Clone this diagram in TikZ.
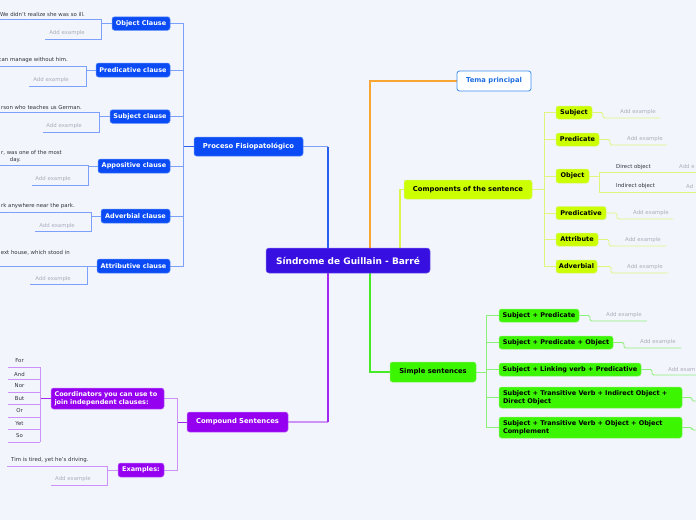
\documentclass[tikz,border=0pt]{standalone}
\usepackage{fontspec}
\setmainfont{DejaVu Sans}
\pgfdeclarelayer{bglayer}
\pgfsetlayers{bglayer,main}
\definecolor{cBg}{RGB}{243,245,253}
\definecolor{cBlue}{RGB}{10,75,245}
\definecolor{cBlueB}{RGB}{90,140,250}
\definecolor{cCent}{RGB}{55,15,225}
\definecolor{cCentB}{RGB}{120,100,240}
\definecolor{cYel}{RGB}{204,255,0}
\definecolor{cYelB}{RGB}{215,245,110}
\definecolor{cGrn}{RGB}{60,245,0}
\definecolor{cGrnB}{RGB}{130,240,100}
\definecolor{cPur}{RGB}{150,0,240}
\definecolor{cPurB}{RGB}{190,110,250}
\definecolor{cTema}{RGB}{60,140,240}
\definecolor{cTemaT}{RGB}{30,110,225}
\definecolor{cBlueMain}{RGB}{40,95,240}
\definecolor{cBlueSub}{RGB}{125,160,250}
\definecolor{cOrange}{RGB}{248,165,50}
\definecolor{cYelMain}{RGB}{222,245,80}
\definecolor{cYelSub}{RGB}{225,245,125}
\definecolor{cGrnMain}{RGB}{70,235,40}
\definecolor{cGrnSub}{RGB}{140,240,120}
\definecolor{cPurMain}{RGB}{160,40,240}
\definecolor{cPurSub}{RGB}{205,145,250}
\definecolor{cTxt}{RGB}{50,50,62}
\definecolor{cAdd}{RGB}{170,172,185}
\begin{document}
\begin{tikzpicture}[x=1pt,y=-1pt,
  box/.style={rounded corners=2.5pt, inner sep=0pt, line width=0.5pt,
    font=\fontsize{6.5}{8}\selectfont\bfseries, align=center},
  bluebox/.style={box, fill=cBlue, draw=cBlueB, text=white},
  yelbox/.style={box, fill=cYel, draw=cYelB, text=black},
  grnbox/.style={box, fill=cGrn, draw=cGrnB, text=black},
  purbox/.style={box, fill=cPur, draw=cPurB, text=white},
  lvltwo/.style={font=\fontsize{6.8}{8}\selectfont\bfseries},
  extxt/.style={font=\fontsize{5.4}{6.5}\selectfont, inner sep=0pt, text=cTxt},
  addtxt/.style={font=\fontsize{5.4}{6.5}\selectfont, inner sep=0pt, text=cAdd},
  mainline/.style={line width=1.2pt},
  subB/.style={line width=0.8pt, draw=cBlueSub},
  subY/.style={line width=0.8pt, draw=cYelSub},
  subG/.style={line width=0.8pt, draw=cGrnSub},
  subP/.style={line width=0.8pt, draw=cPurSub},
  stepln/.style={rounded corners=1.5pt}
]
\clip (0,0) rectangle (696,520);

% ---------- nodes ----------
\node[box, fill=cCent, draw=cCentB, text=white, rounded corners=3pt,
  font=\fontsize{9}{10}\selectfont\bfseries,
  minimum width=164pt, minimum height=25pt] (cent) at (348,260.5) {Síndrome de Guillain - Barré};

\node[bluebox, lvltwo, minimum width=109pt, minimum height=19pt] (proc) at (248.5,146.5) {Proceso Fisiopatológico};
\node[box, lvltwo, fill=white, draw=cTema, line width=0.8pt, text=cTemaT,
  minimum width=74pt, minimum height=20pt] (tema) at (494,81) {Tema principal};
\node[yelbox, lvltwo, minimum width=128pt, minimum height=19pt] (comp) at (468,189.5) {Components of the sentence};
\node[grnbox, lvltwo, minimum width=86pt, minimum height=20pt] (simp) at (433,372) {Simple sentences};
\node[purbox, lvltwo, minimum width=101pt, minimum height=20pt] (cmpd) at (237.5,422) {Compound Sentences};

% blue children
\node[bluebox, minimum width=58pt, minimum height=13.5pt] (objc) at (141,23.5) {Object Clause};
\node[bluebox, minimum width=74pt, minimum height=14pt] (predc) at (133,70) {Predicative clause};
\node[bluebox, minimum width=60pt, minimum height=13.5pt] (subjc) at (140,116.5) {Subject clause};
\node[bluebox, minimum width=72pt, minimum height=14pt] (appc) at (134,166) {Appositive clause};
\node[bluebox, minimum width=69pt, minimum height=14pt] (advc) at (135.5,216) {Adverbial clause};
\node[bluebox, minimum width=73pt, minimum height=14pt] (attc) at (133.5,266) {Attributive clause};

% purple children
\node[purbox, align=left, text width=106pt, minimum width=113pt, minimum height=21pt] (coord) at (107.5,398.5) {Coordinators you can use to\\join independent clauses:};
\node[purbox, minimum width=46pt, minimum height=14pt] (exm) at (141,470) {Examples:};

% yellow children
\node[yelbox, minimum width=36pt, minimum height=13pt] (subj) at (574,112.5) {Subject};
\node[yelbox, minimum width=43pt, minimum height=13pt] (pred) at (577.5,139.5) {Predicate};
\node[yelbox, minimum width=33pt, minimum height=14pt] (obj) at (572.5,176) {Object};
\node[yelbox, minimum width=50pt, minimum height=13pt] (prdv) at (581,213) {Predicative};
\node[yelbox, minimum width=42pt, minimum height=13pt] (attr) at (577,239.5) {Attribute};
\node[yelbox, minimum width=41pt, minimum height=13pt] (advb) at (576.5,266.5) {Adverbial};

% green children
\node[grnbox, minimum width=80pt, minimum height=13pt] (sp1) at (539,315.5) {Subject + Predicate};
\node[grnbox, minimum width=114pt, minimum height=13pt] (sp2) at (556,342.5) {Subject + Predicate + Object};
\node[grnbox, minimum width=142pt, minimum height=13pt] (sp3) at (570,369.5) {Subject + Linking verb + Predicative};
\node[grnbox, align=left, text width=175pt, minimum width=183pt, minimum height=21pt] (sp4) at (590.5,397.5) {Subject + Transitive Verb + Indirect Object +\\Direct Object};
\node[grnbox, align=left, text width=175pt, minimum width=183pt, minimum height=21pt] (sp5) at (590.5,427.5) {Subject + Transitive Verb + Object + Object\\Complement};

% ---------- free texts ----------
% left blue examples
\node[extxt, anchor=east] (e1) at (85,14) {We didn't realize she was so ill.};
\node[addtxt, anchor=east] (a1) at (85,33) {Add example};
\node[extxt, anchor=east] (e2) at (68,60) {can manage without him.};
\node[addtxt, anchor=east] (a2) at (69,80) {Add example};
\node[extxt, anchor=east] (e3) at (82,107) {rson who teaches us German.};
\node[addtxt, anchor=east] (a3) at (82,126) {Add example};
\node[extxt, anchor=east] (e4) at (62,153) {r, was one of the most};
\node[extxt, anchor=east] (e4b) at (21,160) {day.};
\node[addtxt, anchor=east] (a4) at (71,179) {Add example};
\node[extxt, anchor=east] (e5) at (75,206) {rk anywhere near the park.};
\node[addtxt, anchor=east] (a5) at (75,226) {Add example};
\node[extxt, anchor=east] (e6) at (70,253) {ext house, which stood in};
\node[addtxt, anchor=east] (a6) at (71,279) {Add example};

% right yellow
\node[addtxt, anchor=west] (ay1) at (620,112) {Add example};
\node[addtxt, anchor=west] (ay2) at (627,139) {Add example};
\node[extxt, anchor=west] (dobj) at (616,167) {Direct object};
\node[extxt, anchor=west] (iobj) at (616,186) {Indirect object};
\node[addtxt, anchor=west] (ay3) at (679,166) {Add e};
\node[addtxt, anchor=west] (ay4) at (686,186) {Ad};
\node[addtxt, anchor=west] (ay5) at (633,213) {Add example};
\node[addtxt, anchor=west] (ay6) at (625,240) {Add example};
\node[addtxt, anchor=west] (ay7) at (627,267) {Add example};

% right green
\node[addtxt, anchor=west] (ag1) at (606,315) {Add example};
\node[addtxt, anchor=west] (ag2) at (640,342) {Add example};
\node[addtxt, anchor=west] (ag3) at (668,369) {Add exam};

% purple
\foreach \w/\yy/\nm in {For/361/k1, And/374/k2, Nor/386/k3, But/399/k4, Or/411/k5, Yet/424/k6, So/436/k7}
  \node[extxt] (\nm) at (19.5,\yy) {\w};
\node[extxt, anchor=west] (tim) at (11,460) {Tim is tired, yet he's driving.};
\node[addtxt, anchor=west] (ap) at (55,479) {Add example};

% ---------- connectors (behind) ----------
\begin{pgfonlayer}{bglayer}
\fill[cBg] (0,0) rectangle (696,520);
\coordinate (cTopB) at (328,248);
\coordinate (cTopO) at (370,248);
\coordinate (cTopY) at (400,248);
\coordinate (cBotG) at (370,273);
\coordinate (cBotP) at (328,273);
\coordinate (projog) at (328,146.5);
\coordinate (cmpjog) at (328,422);

\draw[mainline, cBlueSub] (proc.east) -- (projog);
\draw[mainline, cBlueMain] (projog) -- (cTopB);
\draw[mainline, cOrange] (tema.west) -| (cTopO);
\draw[mainline, cYelMain] (comp.west) -| (cTopY);
\draw[mainline, cGrnMain] (simp.west) -| (cBotG);
\draw[mainline, cPurSub] (cmpd.east) -- (cmpjog);
\draw[mainline, cPurMain] (cmpjog) -- (cBotP);

% blue tree
\coordinate (bsp) at (183,146.5);
\draw[line width=1pt, cBlueMain] (proc.west) -- (bsp);
\foreach \n in {objc,predc,subjc,appc,advc,attc}
  \draw[subB] (\n.east) -| (bsp);
% brackets
\coordinate (b1) at (101,23.5);
\draw[subB] (objc.west) -- (b1);
\draw[subB] (0,19.3) -| (b1);
\draw[subB] (45,39) -| (b1);
\coordinate (b2) at (86,70);
\draw[subB] (predc.west) -- (b2);
\draw[subB] (0,66) -| (b2);
\draw[subB] (29,86) -| (b2);
\coordinate (b3) at (99,116.5);
\draw[subB] (subjc.west) -- (b3);
\draw[subB] (0,112.5) -| (b3);
\draw[subB] (43,132) -| (b3);
\coordinate (b4) at (88,166);
\draw[subB] (appc.west) -- (b4);
\draw[subB] (0,165.5) -| (b4);
\draw[subB] (32,185) -| (b4);
\coordinate (b5) at (91,216);
\draw[subB] (advc.west) -- (b5);
\draw[subB] (0,212) -| (b5);
\draw[subB] (35,231.5) -| (b5);
\coordinate (b6) at (87,266);
\draw[subB] (attc.west) -- (b6);
\draw[subB] (0,266) -- (b6);
\draw[subB] (30,284.5) -| (b6);

% yellow tree
\coordinate (ysp) at (544,189.5);
\draw[subY] (comp.east) -- (ysp);
\foreach \n in {subj,pred,obj,prdv,attr,advb}
  \draw[subY] (\n.west) -| (ysp);
\draw[subY, stepln] (subj.east) -- (603,112.5) -- (603,118) -- (660,118);
\draw[subY, stepln] (pred.east) -- (610,139.5) -- (610,145) -- (667,145);
\coordinate (ob) at (599,176);
\draw[subY] (obj.east) -- (ob);
\draw[subY] (700,172.5) -| (ob);
\draw[subY] (700,192) -| (ob);
\draw[subY, stepln] (prdv.east) -- (617,213) -- (617,219) -- (673,219);
\draw[subY, stepln] (attr.east) -- (609,239.5) -- (609,246) -- (666,246);
\draw[subY, stepln] (advb.east) -- (611,266.5) -- (611,273) -- (668,273);

% green tree
\coordinate (gsp) at (486,372);
\draw[subG] (simp.east) -- (gsp);
\foreach \n in {sp1,sp2,sp3,sp4,sp5}
  \draw[subG] (\n.west) -| (gsp);
\draw[subG, stepln] (sp1.east) -- (590,315.5) -- (590,321) -- (647,321);
\draw[subG, stepln] (sp2.east) -- (624,342.5) -- (624,348) -- (681,348);
\draw[subG, stepln] (sp3.east) -- (652,369.5) -- (652,375) -- (700,375);
\draw[subG, stepln] (sp4.east) -- (692,397.5) -- (692,401) -- (700,401);
\draw[subG, stepln] (sp5.east) -- (692,427.5) -- (692,430) -- (700,430);

% purple tree
\coordinate (psp) at (177,422);
\draw[line width=1pt, cPurMain] (cmpd.west) -- (psp);
\draw[subP] (coord.east) -| (psp);
\draw[subP] (exm.east) -| (psp);
\coordinate (csp) at (40,398.5);
\draw[line width=1pt, cPurMain] (coord.west) -- (csp);
\draw[subP] (40,367) -- (40,442);
\foreach \yy in {367,379.5,392,404.5,417,429.5,442}
  \draw[subP] (8,\yy) -- (40,\yy);
\coordinate (xb) at (107,470);
\draw[subP] (exm.west) -- (xb);
\draw[subP] (7,466) -| (xb);
\draw[subP] (51,485) -| (xb);
\end{pgfonlayer}
\end{tikzpicture}
\end{document}
